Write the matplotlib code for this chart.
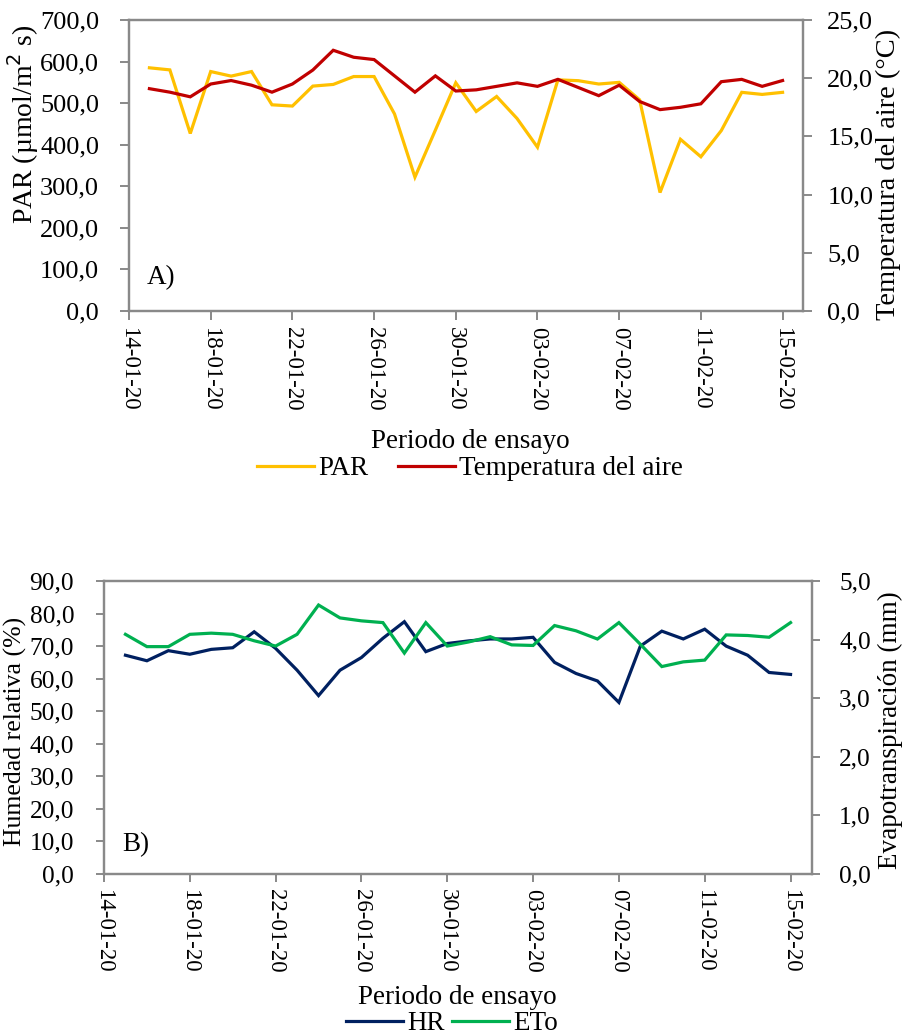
import matplotlib
matplotlib.use("Agg")
import matplotlib.pyplot as plt
import matplotlib.dates as mdates
from matplotlib.ticker import FuncFormatter, MultipleLocator
from matplotlib.lines import Line2D
import pandas as pd

plt.rcParams['font.family'] = ['Liberation Serif', 'DejaVu Serif']

# Daily series, 15-01-2020 .. 15-02-2020
dates = pd.date_range("2020-01-15", "2020-02-15", freq="D")

par = [585, 580, 427, 576, 565, 576, 496, 493, 541, 545, 564, 564, 474, 322,
       435, 549, 480, 516, 463, 394, 556, 554, 546, 550, 508, 285, 413, 371,
       434, 526, 521, 526]
temp = [19.1, 18.8, 18.4, 19.5, 19.8, 19.4, 18.8, 19.5, 20.7, 22.4, 21.8,
        21.6, 20.2, 18.8, 20.2, 18.9, 19.0, 19.3, 19.6, 19.3, 19.9, 19.2,
        18.5, 19.4, 18.0, 17.3, 17.5, 17.8, 19.7, 19.9, 19.3, 19.8]
hr = [67.2, 65.5, 68.6, 67.5, 69.0, 69.5, 74.4, 69.3, 62.6, 54.8, 62.6, 66.5,
      72.4, 77.5, 68.3, 70.8, 71.6, 72.2, 72.2, 72.7, 65.0, 61.6, 59.3, 52.7,
      70.0, 74.6, 72.2, 75.2, 70.0, 67.2, 61.9, 61.3]
eto = [4.09, 3.88, 3.88, 4.09, 4.11, 4.09, 3.98, 3.89, 4.09, 4.59, 4.37, 4.32,
       4.29, 3.77, 4.29, 3.89, 3.96, 4.05, 3.91, 3.90, 4.24, 4.15, 4.01, 4.29,
       3.92, 3.54, 3.62, 3.65, 4.08, 4.07, 4.04, 4.29]

tick_dates = pd.date_range("2020-01-14", "2020-02-15", freq="4D")
x_start = pd.Timestamp("2020-01-14")
x_end = pd.Timestamp("2020-02-16")

C_PAR = "#FFC000"
C_TEMP = "#C00000"
C_HR = "#002060"
C_ETO = "#00B050"
GRAY = "#898989"
LW = 2.3
FS_XTICK = 16.5
FS_LAB = 19.5

comma = FuncFormatter(lambda v, p: f"{v:.1f}".replace(".", ","))

W, H = 908, 1035
fig = plt.figure(figsize=(W / 100, H / 100), dpi=100)


def px_axes(l, t, r, b):
    return fig.add_axes([l / W, 1 - b / H, (r - l) / W, (b - t) / H])


def style(ax, ax2, ymax, ystep, y2max, y2step, tlen, lpad, rpad, ysize):
    ax.set_xlim(x_start, x_end)
    ax.set_xticks(tick_dates)
    ax.xaxis.set_major_formatter(mdates.DateFormatter("%d-%m-%y"))
    ax.set_ylim(0, ymax)
    ax.yaxis.set_major_locator(MultipleLocator(ystep))
    ax.yaxis.set_major_formatter(comma)
    ax2.set_ylim(0, y2max)
    ax2.yaxis.set_major_locator(MultipleLocator(y2step))
    ax2.yaxis.set_major_formatter(comma)
    for a in (ax, ax2):
        for s in a.spines.values():
            s.set_color(GRAY)
            s.set_linewidth(1.6)
        a.tick_params(axis="both", colors=GRAY, labelcolor="black",
                      length=tlen, width=1.4, direction="out")
    ax.tick_params(axis="y", labelsize=ysize, pad=lpad)
    ax2.tick_params(axis="y", labelsize=ysize, pad=rpad)
    ax.tick_params(axis="x", labelsize=FS_XTICK, pad=5)
    for lab in ax.get_xticklabels():
        lab.set_rotation(270)


# ---- Panel A: PAR and air temperature ----
axA = px_axes(129, 20, 803, 311)
axA2 = axA.twinx()
axA.plot(dates, par, color=C_PAR, lw=LW, solid_joinstyle="miter")
axA2.plot(dates, temp, color=C_TEMP, lw=LW, solid_joinstyle="miter")
style(axA, axA2, 700, 100, 25, 5, tlen=6.5, lpad=15, rpad=11, ysize=19)
fig.text(147 / W, 1 - 278 / H, "A)", fontsize=FS_LAB, va="center", ha="left")
fig.text(23 / W, 1 - 124 / H, "PAR (µmol/m$^2$ s)", rotation=90,
         ha="center", va="center", fontsize=20)
fig.text(888 / W, 1 - 174 / H, "Temperatura del aire (°C)", rotation=90,
         ha="center", va="center", fontsize=20.5)
fig.text(470 / W, 1 - 441 / H, "Periodo de ensayo", ha="center",
         va="center", fontsize=FS_LAB)
fig.legend(handles=[Line2D([], [], color=C_PAR, lw=LW),
                    Line2D([], [], color=C_TEMP, lw=LW)],
           labels=["PAR", "Temperatura del aire"], loc="center",
           bbox_to_anchor=(470 / W, 1 - 469 / H), ncol=2, frameon=False,
           fontsize=FS_LAB, handlelength=2.1, handletextpad=0.15,
           columnspacing=1.1, borderpad=0, borderaxespad=0)

# ---- Panel B: relative humidity and evapotranspiration ----
axB = px_axes(104, 581, 812, 874)
axB2 = axB.twinx()
axB.plot(dates, hr, color=C_HR, lw=LW, solid_joinstyle="miter")
axB2.plot(dates, eto, color=C_ETO, lw=LW, solid_joinstyle="miter")
style(axB, axB2, 90, 10, 5, 1, tlen=5.5, lpad=16, rpad=14, ysize=18.3)
fig.text(122 / W, 1 - 845 / H, "B)", fontsize=FS_LAB, va="center", ha="left")
fig.text(15 / W, 1 - 731 / H, "Humedad relativa (%)", rotation=90,
         ha="center", va="center", fontsize=18.5)
fig.text(890 / W, 1 - 730 / H, "Evapotranspiración (mm)", rotation=90,
         ha="center", va="center", fontsize=19.5)
fig.text(457 / W, 1 - 997 / H, "Periodo de ensayo", ha="center",
         va="center", fontsize=FS_LAB)
fig.legend(handles=[Line2D([], [], color=C_HR, lw=LW),
                    Line2D([], [], color=C_ETO, lw=LW)],
           labels=["HR", "ETo"], loc="center",
           bbox_to_anchor=(452 / W, 1 - 1024 / H), ncol=2, frameon=False,
           fontsize=FS_LAB, handlelength=2.1, handletextpad=0.15,
           columnspacing=0.3, borderpad=0, borderaxespad=0)

fig.savefig("out.png", dpi=100)
